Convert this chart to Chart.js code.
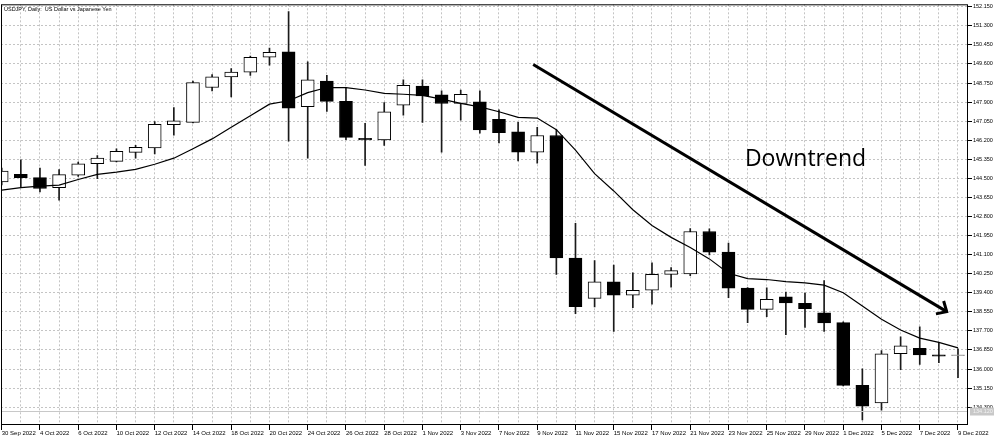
<!DOCTYPE html>
<html>
<head>
<meta charset="utf-8">
<script src="https://cdn.jsdelivr.net/npm/chart.js@4.4.1/dist/chart.umd.min.js"></script>
<style>
  html, body { margin: 0; padding: 0; background: #fff; }
</style>
</head>
<body>
<canvas id="grafica" width="1000" height="438"></canvas>
<script>
const dates = ['30 Sep 2022', '3 Oct 2022', '4 Oct 2022', '5 Oct 2022', '6 Oct 2022', '7 Oct 2022',
  '10 Oct 2022', '11 Oct 2022', '12 Oct 2022', '13 Oct 2022', '14 Oct 2022',
  '17 Oct 2022', '18 Oct 2022', '19 Oct 2022', '20 Oct 2022', '21 Oct 2022',
  '24 Oct 2022', '25 Oct 2022', '26 Oct 2022', '27 Oct 2022', '28 Oct 2022',
  '31 Oct 2022', '1 Nov 2022', '2 Nov 2022', '3 Nov 2022', '4 Nov 2022',
  '7 Nov 2022', '8 Nov 2022', '9 Nov 2022', '10 Nov 2022', '11 Nov 2022',
  '14 Nov 2022', '15 Nov 2022', '16 Nov 2022', '17 Nov 2022', '18 Nov 2022',
  '21 Nov 2022', '22 Nov 2022', '23 Nov 2022', '24 Nov 2022', '25 Nov 2022',
  '28 Nov 2022', '29 Nov 2022', '30 Nov 2022', '1 Dec 2022', '2 Dec 2022',
  '5 Dec 2022', '6 Dec 2022', '7 Dec 2022', '8 Dec 2022', '9 Dec 2022'];

const opens = [144.34, 144.68, 144.53, 144.08, 144.64, 145.15, 145.26, 145.66, 145.86, 146.89,
  147.00, 148.55, 149.02, 149.24, 149.90, 150.14, 147.70, 148.84, 147.93, 146.29,
  146.21, 147.76, 148.62, 148.22, 147.84, 147.91, 147.13, 146.58, 145.67, 146.41,
  140.95, 139.15, 139.89, 139.29, 139.51, 140.22, 140.24, 142.13, 141.21, 139.61,
  138.66, 139.22, 138.93, 138.50, 138.07, 135.27, 134.49, 136.68, 136.92, 136.63, 136.59];
const highs = [144.96, 145.33, 144.96, 144.89, 145.23, 145.52, 145.82, 145.97, 147.03, 147.66,
  148.84, 149.13, 149.39, 149.95, 150.31, 151.94, 149.70, 149.09, 148.55, 146.95,
  147.88, 148.89, 148.89, 148.40, 148.44, 148.40, 147.56, 147.00, 146.78, 146.67,
  142.50, 140.83, 140.63, 140.29, 140.73, 140.52, 142.26, 142.25, 141.61, 139.63,
  139.62, 139.43, 139.39, 139.94, 138.10, 136.01, 136.82, 137.44, 137.88, 137.19, 136.90];
const lows = [144.21, 144.12, 143.90, 143.53, 144.59, 144.49, 145.23, 145.40, 145.59, 146.43,
  146.97, 148.40, 148.13, 149.09, 149.55, 146.16, 145.40, 147.48, 146.23, 145.08,
  145.97, 147.32, 147.00, 145.67, 147.10, 146.52, 146.08, 145.28, 145.18, 140.22,
  138.47, 138.77, 137.68, 138.74, 138.89, 139.65, 140.16, 141.09, 139.18, 138.07,
  138.33, 137.53, 137.85, 137.68, 135.25, 133.73, 134.17, 135.97, 136.20, 136.28, 135.61];
const closes = [144.83, 144.53, 144.05, 144.67, 145.15, 145.40, 145.71, 145.88, 146.91, 147.07,
  148.77, 149.03, 149.24, 149.90, 150.12, 147.63, 148.89, 147.93, 146.33, 146.21,
  147.47, 148.65, 148.18, 147.84, 148.25, 146.66, 146.54, 145.67, 146.41, 140.95,
  138.78, 139.89, 139.29, 139.51, 140.22, 140.39, 142.13, 141.21, 139.61, 138.66,
  139.11, 138.95, 138.69, 138.05, 135.27, 134.34, 136.68, 137.03, 136.63, 136.57, 136.59];
// moving average line
const ma = [143.98, 144.09, 144.15, 144.20, 144.45, 144.68, 144.78, 144.90, 145.13, 145.40,
  145.82, 146.26, 146.78, 147.29, 147.81, 147.96, 148.32, 148.55, 148.55, 148.44,
  148.29, 148.25, 148.20, 148.03, 147.84, 147.69, 147.47, 147.22, 147.19, 146.67,
  145.76, 144.71, 143.94, 143.10, 142.40, 141.87, 141.42, 140.91, 140.27, 140.03,
  139.99, 139.90, 139.84, 139.74, 139.40, 138.81, 138.22, 137.74, 137.38, 137.19, 136.94];

const yTicks = ['152.150', '151.300', '150.450', '149.600', '148.750', '147.900', '147.050',
  '146.200', '145.350', '144.500', '143.650', '142.800', '141.950', '141.100', '140.250',
  '139.400', '138.550', '137.700', '136.850', '136.000', '135.150', '134.300'];

const title = 'USDJPY, Daily:  US Dollar vs Japanese Yen';
const trendLabel = 'Downtrend';
const trendStart = [27.79, 149.58];   // [bar index, price]
const trendEnd = [49.41, 138.56];
const trendText = [38.86, 145.05];
const priceLevel = 134.12;
const priceLevelLabel = '134.120';

const bodyColors = opens.map((o, i) => closes[i] > o ? '#ffffff' : (closes[i] < o ? '#000000' : '#9a9a9a'));
const bodyBorders = opens.map((o, i) => closes[i] === o ? '#9a9a9a' : '#000000');

const annotations = {
  id: 'annotations',
  afterDatasetsDraw(chart) {
    const { ctx, chartArea: ca, scales: { x, y } } = chart;
    ctx.save();
    // level line
    const ly = Math.round(y.getPixelForValue(priceLevel)) + 0.5;
    ctx.strokeStyle = '#c8c8c8';
    ctx.lineWidth = 1;
    ctx.beginPath();
    ctx.moveTo(ca.left, ly);
    ctx.lineTo(ca.right, ly);
    ctx.stroke();

    // trend line + arrow
    const x1 = x.getPixelForValue(trendStart[0]), y1 = y.getPixelForValue(trendStart[1]);
    const x2 = x.getPixelForValue(trendEnd[0]), y2 = y.getPixelForValue(trendEnd[1]);
    ctx.strokeStyle = '#000';
    ctx.lineWidth = 3;
    ctx.beginPath();
    ctx.moveTo(x1, y1);
    ctx.lineTo(x2, y2);
    ctx.stroke();
    const ang = Math.atan2(y2 - y1, x2 - x1);
    const len = 11;
    ctx.beginPath();
    ctx.moveTo(x2 - len * Math.cos(ang - 0.75), y2 - len * Math.sin(ang - 0.75));
    ctx.lineTo(x2, y2);
    ctx.lineTo(x2 - len * Math.cos(ang + 0.75), y2 - len * Math.sin(ang + 0.75));
    ctx.stroke();

    ctx.fillStyle = '#000';
    ctx.font = '23px "Open Sans"';
    ctx.textBaseline = 'alphabetic';
    ctx.fillText(trendLabel, x.getPixelForValue(trendText[0]), y.getPixelForValue(trendText[1]));

    // frame + title
    ctx.lineWidth = 1;
    ctx.strokeStyle = '#000';
    ctx.strokeRect(ca.left + 0.5, ca.top + 0.5, ca.right - ca.left - 1, ca.bottom - ca.top - 1);
    ctx.font = '5.5px "Liberation Sans"';
    ctx.textBaseline = 'top';
    ctx.fillText(title, ca.left + 3, ca.top + 2);

    // level label box on the axis
    ctx.fillStyle = '#c8c8c8';
    ctx.fillRect(ca.right + 2, ly - 4, 24, 8);
    ctx.fillStyle = '#f2f2f2';
    ctx.textBaseline = 'middle';
    ctx.fillText(priceLevelLabel, ca.right + 5, ly);
    ctx.restore();
  }
};

const ctx = document.getElementById('grafica');

new Chart(ctx, {
  type: 'bar',
  data: {
    datasets: [
      {
        type: 'line',
        label: 'MA',
        data: ma.map((v, i) => ({ x: i, y: v })),
        borderColor: '#000',
        borderWidth: 1.2,
        pointRadius: 0,
        tension: 0,
        order: 0
      },
      {
        label: 'Body',
        data: opens.map((o, i) => ({ x: i, y: [o, closes[i]] })),
        backgroundColor: bodyColors,
        borderColor: bodyBorders,
        borderWidth: 1,
        borderSkipped: false,
        barThickness: 13,
        minBarLength: 1,
        grouped: false,
        order: 1
      },
      {
        label: 'Wick',
        data: lows.map((l, i) => ({ x: i, y: [l, highs[i]] })),
        backgroundColor: '#1a1a1a',
        borderWidth: 0,
        barThickness: 1,
        grouped: false,
        order: 2
      }
    ]
  },
  options: {
    responsive: false,
    animation: false,
    layout: { padding: { left: 1, top: 1, right: 0, bottom: 0 } },
    plugins: {
      legend: { display: false },
      tooltip: { enabled: false }
    },
    scales: {
      x: {
        type: 'linear',
        offset: false,
        min: -0.037,
        max: 50.523,
        afterBuildTicks: (scale) => { scale.ticks = dates.map((d, i) => ({ value: i })); },
        afterFit: (scale) => { scale.height = 13; },
        grid: {
          offset: false,
          color: '#c4c4c4',
          tickLength: 5,
          tickColor: (c) => c.index % 2 === 0 ? '#000' : 'rgba(0,0,0,0)',
          tickBorderDash: [],
          tickWidth: 1
        },
        border: { display: false, dash: [2, 2] },
        ticks: {
          autoSkip: false,
          maxRotation: 0,
          minRotation: 0,
          align: 'start',
          padding: 0,
          color: '#000',
          font: { family: 'Liberation Sans', size: 6 },
          callback: (v, i) => i % 2 === 0 ? dates[i] : ''
        }
      },
      y: {
        position: 'right',
        min: 133.504,
        max: 152.261,
        afterBuildTicks: (scale) => { scale.ticks = yTicks.map(s => ({ value: parseFloat(s) })); },
        afterFit: (scale) => { scale.width = 32; },
        grid: {
          color: '#c4c4c4',
          tickLength: 4,
          tickColor: '#000',
          tickBorderDash: [],
          tickWidth: 1
        },
        border: { display: false, dash: [2, 2] },
        ticks: {
          padding: 1,
          color: '#000',
          font: { family: 'Liberation Sans', size: 5.5 },
          callback: (v, i) => yTicks[i]
        }
      }
    }
  },
  plugins: [annotations]
});
</script>
</body>
</html>
